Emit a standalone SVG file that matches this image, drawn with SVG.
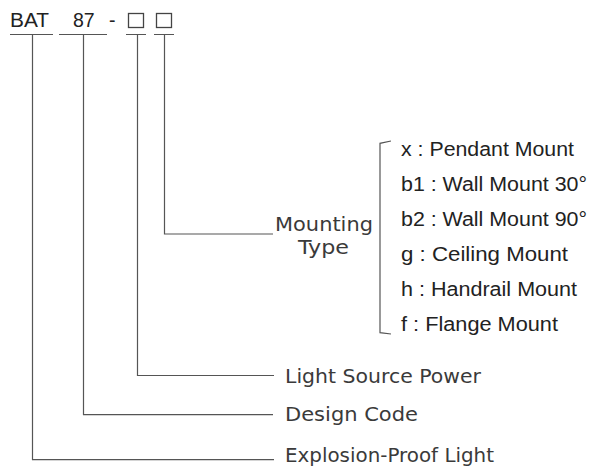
<svg xmlns="http://www.w3.org/2000/svg" width="589" height="467" viewBox="0 0 589 467">
<style>
.ln{fill:none;stroke:#555;stroke-width:1.2}
.code{font-family:"Liberation Sans",Arial,sans-serif;font-size:19.5px;fill:#222}
.opt{font-family:"Liberation Sans",Arial,sans-serif;font-size:20px;fill:#222}
.lbl{font-family:"DejaVu Sans","Liberation Sans",sans-serif;font-size:20px;fill:#3a3a3a}
.mt{font-size:19px}
.box{fill:none;stroke:#444;stroke-width:1.3}
</style>
<rect width="589" height="467" fill="#fff"/>
<g id="code">
<text class="code" x="10" y="27" textLength="39" lengthAdjust="spacingAndGlyphs">BAT</text>
<text class="code" x="73" y="27">87</text>
<text class="code" x="109" y="27">-</text>
<rect class="box" x="128.5" y="13.5" width="15" height="14"/>
<rect class="box" x="156.5" y="13.5" width="15" height="14"/>
</g>
<g id="connectors">
<path class="ln" d="M10 34.5H53M59 34.5H107M126 34.5H146M154 34.5H174"/>
<path class="ln" d="M164.5 34.5V234H273"/>
<path class="ln" d="M137.5 34.5V375.5H274"/>
<path class="ln" d="M83.5 34.5V414.7H273"/>
<path class="ln" d="M32.5 34.5V459.7H274"/>
<path class="ln" d="M391 141L380 143.3V332.7L391 334"/>
</g>
<g id="mounting-type">
<text class="lbl mt" x="275" y="231" textLength="98" lengthAdjust="spacingAndGlyphs">Mounting</text>
<text class="lbl mt" x="298" y="254" textLength="51" lengthAdjust="spacingAndGlyphs">Type</text>
</g>
<g id="options">
<text class="opt" x="401" y="156" textLength="173" lengthAdjust="spacingAndGlyphs">x : Pendant Mount</text>
<text class="opt" x="401" y="191" textLength="186" lengthAdjust="spacingAndGlyphs">b1 : Wall Mount 30°</text>
<text class="opt" x="401" y="226" textLength="186" lengthAdjust="spacingAndGlyphs">b2 : Wall Mount 90°</text>
<text class="opt" x="401" y="261" textLength="167" lengthAdjust="spacingAndGlyphs">g : Ceiling Mount</text>
<text class="opt" x="401" y="296" textLength="176" lengthAdjust="spacingAndGlyphs">h : Handrail Mount</text>
<text class="opt" x="401" y="331" textLength="157" lengthAdjust="spacingAndGlyphs">f : Flange Mount</text>
</g>
<g id="light-source-power">
<text class="lbl" x="285" y="383" textLength="196" lengthAdjust="spacingAndGlyphs">Light Source Power</text>
</g>
<g id="design-code">
<text class="lbl" x="285" y="421" textLength="133" lengthAdjust="spacingAndGlyphs">Design Code</text>
</g>
<g id="explosion-proof-light">
<text class="lbl" x="285" y="462" textLength="209" lengthAdjust="spacingAndGlyphs">Explosion-Proof Light</text>
</g>
</svg>
